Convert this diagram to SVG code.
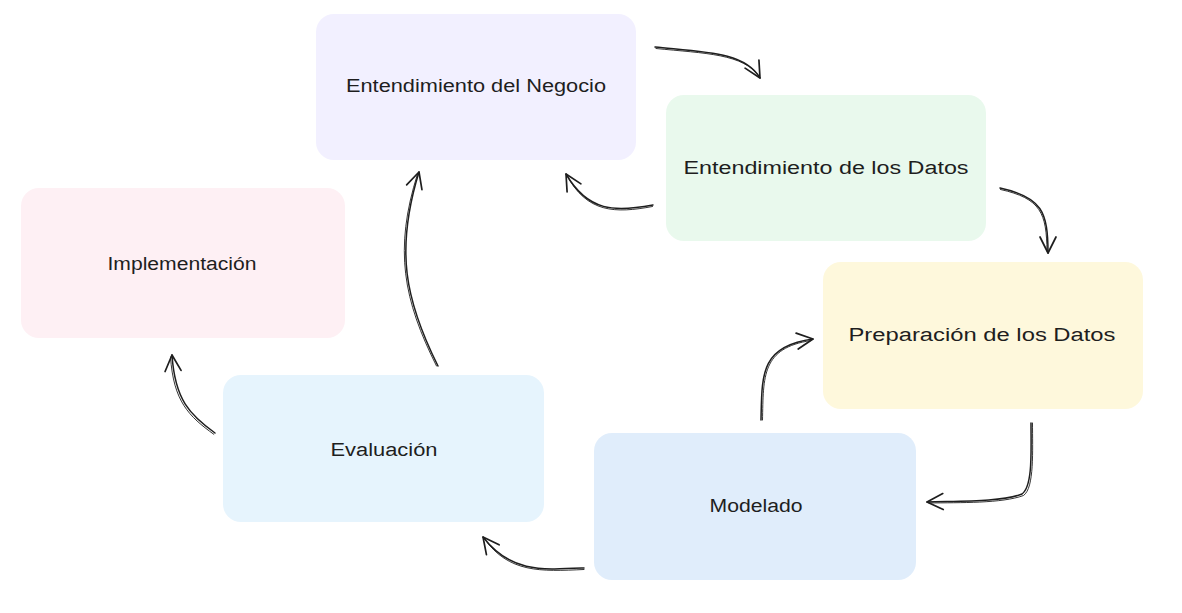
<svg xmlns="http://www.w3.org/2000/svg" width="1182" height="613" viewBox="0 0 1182 613">
<style>
.node rect{stroke:none}
.lbl{font-family:"Liberation Sans","DejaVu Sans",sans-serif;font-size:18px;fill:#1e1e1e;text-anchor:middle}
.c{fill:none;stroke:#1e1e1e;stroke-width:1.5;stroke-linecap:round}
.c2{fill:none;stroke:#1e1e1e;stroke-width:0.9;stroke-linecap:round}
</style>
<defs>
<marker id="ah" markerUnits="userSpaceOnUse" viewBox="-17 -10 19 20" markerWidth="19" markerHeight="20" refX="0" refY="0" orient="auto" overflow="visible">
<path d="M-16,-8 L0,0 L-16,8" fill="none" stroke="#1e1e1e" stroke-width="1.7" stroke-linecap="round" stroke-linejoin="round"/>
</marker>
</defs>
<rect width="1182" height="613" fill="#ffffff"/>
<g id="n-negocio" class="node">
<rect x="316" y="14" width="320" height="146" rx="18" fill="#f2f0ff"/>
<text class="lbl" x="476" y="92" textLength="260" lengthAdjust="spacingAndGlyphs">Entendimiento del Negocio</text>
</g>
<g id="n-datos" class="node">
<rect x="666" y="95" width="320" height="146" rx="18" fill="#e9f9ed"/>
<text class="lbl" x="826" y="174" textLength="285" lengthAdjust="spacingAndGlyphs">Entendimiento de los Datos</text>
</g>
<g id="n-preparacion" class="node">
<rect x="823" y="262" width="320" height="147" rx="18" fill="#fef8dc"/>
<text class="lbl" x="982" y="341" textLength="267" lengthAdjust="spacingAndGlyphs">Preparación de los Datos</text>
</g>
<g id="n-modelado" class="node">
<rect x="594" y="433" width="322" height="147" rx="18" fill="#e0edfb"/>
<text class="lbl" x="756" y="512" textLength="93" lengthAdjust="spacingAndGlyphs">Modelado</text>
</g>
<g id="n-evaluacion" class="node">
<rect x="223" y="375" width="321" height="147" rx="18" fill="#e6f4fd"/>
<text class="lbl" x="384" y="456" textLength="107" lengthAdjust="spacingAndGlyphs">Evaluación</text>
</g>
<g id="n-implementacion" class="node">
<rect x="21" y="188" width="324" height="150" rx="18" fill="#fef0f4"/>
<text class="lbl" x="182" y="270" textLength="149" lengthAdjust="spacingAndGlyphs">Implementación</text>
</g>
<g id="connectors">
<path class="c" d="M655,47 C705,52 745,52 760,78" marker-end="url(#ah)"/>
<path class="c2" d="M656,48.5 C705,53.5 744,53.5 759.5,77"/>
<path class="c" d="M653,205 C615,212 588,212 566,174" marker-end="url(#ah)"/>
<path class="c2" d="M652.5,206.5 C615,213.5 587,213 567,175.5"/>
<path class="c" d="M1000,188 C1042,197 1048,212 1048,253" marker-end="url(#ah)"/>
<path class="c2" d="M1000.5,189.5 C1041,198.5 1046.5,213 1047,251"/>
<path class="c" d="M1031,423 C1031,450 1033,486 1022,494 C1002,502 960,501 927,502" marker-end="url(#ah)"/>
<path class="c2" d="M1032.5,423 C1032.5,450 1034.5,488 1023.5,495.5 C1002,503.5 960,502.5 929,503"/>
<path class="c" d="M761,420 C762,375 760,346 813,339" marker-end="url(#ah)"/>
<path class="c2" d="M762.5,420 C763.5,376 761.5,348 811,340.5"/>
<path class="c" d="M584,568 C540,570 510,572 483,537" marker-end="url(#ah)"/>
<path class="c2" d="M584,569.5 C540,571.5 509,573 484.5,539"/>
<path class="c" d="M438,366 C405,300 395,250 419,172" marker-end="url(#ah)"/>
<path class="c2" d="M436.5,366 C403.5,300 393.5,250 417.5,174"/>
<path class="c" d="M215,433 C190,415 175,400 172,355" marker-end="url(#ah)"/>
<path class="c2" d="M213.8,434.3 C188.8,416.3 173.5,401.5 170.5,357"/>
</g>
</svg>
